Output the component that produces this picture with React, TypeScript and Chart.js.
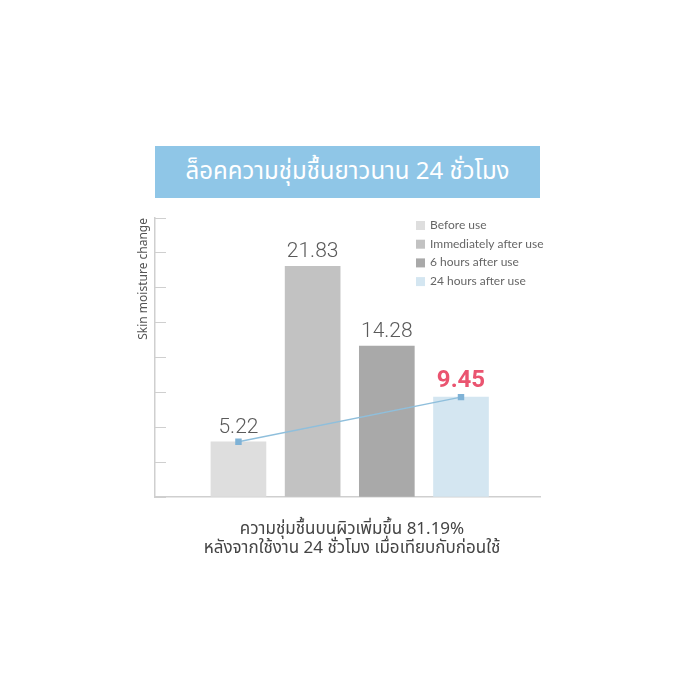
import React, { useEffect, useRef } from "react";
import { Chart, registerables } from "chart.js";

Chart.register(...registerables);

const categories = ["Before use", "Immediately after use", "6 hours after use", "24 hours after use"];
const values = [5.22, 21.83, 14.28, 9.45];
const barColors = ["#dedede", "#c2c2c2", "#a9a9a9", "#d4e6f1"];
const trendIndices = [0, 3];
const titleText = "ล็อคความชุ่มชื้นยาวนาน 24 ชั่วโมง";
const yAxisTitle = "Skin moisture change";
const footerLines = ["ความชุ่มชื้นบนผิวเพิ่มขึ้น 81.19%", "หลังจากใช้งาน 24 ชั่วโมง เมื่อเทียบกับก่อนใช้"];
const highlightIndex = 3;

const THAI = '"Noto Sans Thai", "Noto Sans", "DejaVu Sans", sans-serif';

const labelPlugin = {
  id: "valueLabels",
  afterDatasetsDraw(chart: any) {
    const ctx = chart.ctx;
    const meta = chart.getDatasetMeta(1);
    ctx.save();
    ctx.textAlign = "center";
    ctx.textBaseline = "bottom";
    meta.data.forEach((el: any, i: number) => {
      if (i === highlightIndex) {
        ctx.fillStyle = "#ea5470";
        ctx.font = 'bold 24px Roboto, "Noto Sans", sans-serif';
      } else {
        ctx.fillStyle = "#5a5a5a";
        ctx.font = '300 21px Roboto, "Noto Sans", sans-serif';
      }
      ctx.fillText(values[i].toFixed(2), el.x, el.y - 4);
    });
    ctx.restore();
  },
};

const legendPlugin = {
  id: "customLegend",
  afterDraw(chart: any) {
    const ctx = chart.ctx;
    const area = chart.chartArea;
    const bx = area.right - 124;
    const by = area.top + 7;
    ctx.save();
    ctx.font = '12px Lato, Roboto, sans-serif';
    ctx.textBaseline = "middle";
    ctx.textAlign = "left";
    categories.forEach((c, i) => {
      const y = by + i * 18.7;
      ctx.fillStyle = barColors[i];
      ctx.fillRect(bx, y - 4, 9, 9);
      ctx.fillStyle = "#666666";
      ctx.fillText(c, bx + 14, y);
    });
    ctx.restore();
  },
};

export default function App() {
  const ref = useRef<HTMLCanvasElement | null>(null);
  useEffect(() => {
    if (!ref.current) return;
    const chart = new Chart(ref.current, {
      type: "bar",
      data: {
        datasets: [
          {
            type: "line",
            data: trendIndices.map((i) => ({ x: i, y: values[i] })),
            borderColor: "#8fbfdc",
            borderWidth: 1.5,
            pointStyle: "rect",
            pointRadius: 3.5,
            pointBackgroundColor: "#7fb2d6",
            pointBorderColor: "#7fb2d6",
            order: 0,
          } as any,
          {
            type: "bar",
            data: values.map((v, i) => ({ x: i, y: v })),
            backgroundColor: barColors,
            barThickness: 55,
            order: 1,
          } as any,
        ],
      },
      options: {
        responsive: false,
        animation: false,
        layout: { padding: { left: 130, right: 160, top: 218, bottom: 203 } },
        plugins: { legend: { display: false }, tooltip: { enabled: false } },
        scales: {
          x: {
            type: "linear",
            offset: false,
            min: -1.125,
            max: 4.065,
            grid: { display: false },
            ticks: { display: false },
            border: { display: true, color: "#cfcfcf", width: 1.5 },
            afterFit: (s: any) => {
              s.height = 0;
            },
          },
          y: {
            min: 0,
            max: 26.4,
            ticks: { display: false, stepSize: 3.3 },
            grid: {
              display: true,
              drawOnChartArea: false,
              drawTicks: true,
              tickLength: -11,
              color: "#cfcfcf",
            },
            border: { display: true, color: "#cfcfcf", width: 1.5 },
            title: {
              display: true,
              text: yAxisTitle,
              align: "end",
              color: "#555555",
              font: { size: 12, family: '"Noto Sans", Roboto, sans-serif' },
              padding: { top: 6, bottom: 0 },
            },
            afterFit: (s: any) => {
              s.width = 25;
            },
          },
        },
      } as any,
      plugins: [labelPlugin, legendPlugin],
    });
    return () => chart.destroy();
  }, []);

  return (
    <div style={{ position: "absolute", left: 0, top: 0, width: 700, height: 700, background: "#fff" }}>
      <div
        style={{
          position: "absolute",
          left: 155,
          top: 146,
          width: 385,
          height: 52,
          background: "#8fc6e7",
          color: "#ffffff",
          fontFamily: THAI,
          fontSize: 24,
          display: "flex",
          alignItems: "center",
          justifyContent: "center",
        }}
      >
        {titleText}
      </div>
      <canvas ref={ref} width={700} height={700} style={{ position: "absolute", left: 0, top: 0 }} />
      <div
        style={{
          position: "absolute",
          left: 140,
          top: 520,
          width: 424,
          textAlign: "center",
          fontFamily: THAI,
          fontSize: 17,
          lineHeight: "19px",
          color: "#444444",
        }}
      >
        {footerLines.map((l, i) => (
          <div key={i}>{l}</div>
        ))}
      </div>
    </div>
  );
}
